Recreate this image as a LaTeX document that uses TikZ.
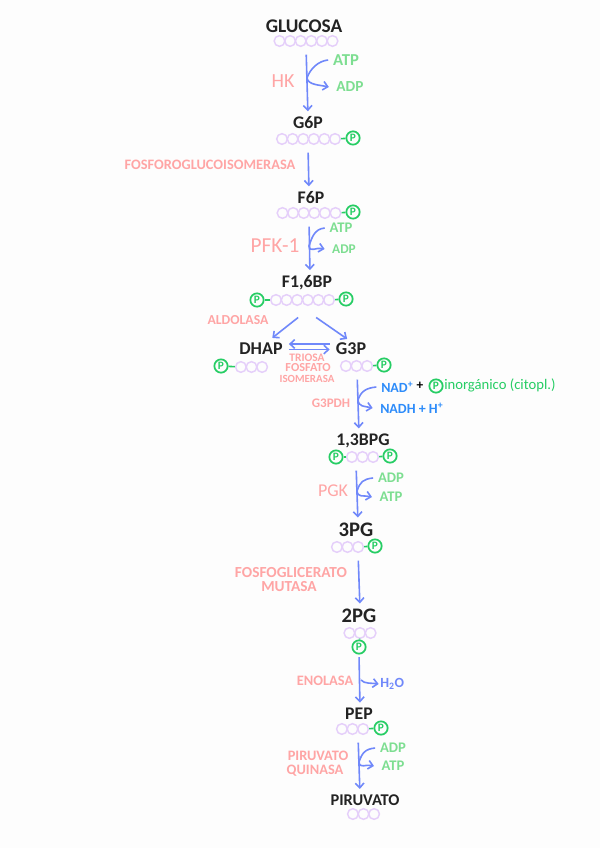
\documentclass[tikz,border=0pt]{standalone}
\usepackage{fontspec}
\setmainfont{Carlito}
\usepackage{xcolor}
\usepackage{tikz}
\usetikzlibrary{arrows.meta, positioning, calc}
\definecolor{myblack}{RGB}{35,35,35}
\definecolor{mysugar}{RGB}{229,207,250}
\definecolor{myphos}{RGB}{38,205,100}
\definecolor{myflow}{RGB}{112,136,250}
\definecolor{myenz}{RGB}{255,165,165}
\definecolor{myenergy}{RGB}{125,222,145}
\definecolor{mynad}{RGB}{45,140,250}
\definecolor{mypaper}{RGB}{253,253,253}
\newcommand{\fsz}[1]{\fontsize{#1}{#1}\selectfont\bfseries}
\newcommand{\fsr}[1]{\fontsize{#1}{#1}\selectfont}
\tikzset{
  metab/.style={inner sep=0pt, color=myblack, font=\fsz{13.3}},
  bigmetab/.style={inner sep=0pt, color=myblack, font=\fsz{15.5}},
  enzyme/.style={inner sep=0pt, color=myenz, font=\fsz{10.8}},
  energy/.style={inner sep=0pt, color=myenergy, font=\fsz{11}},
  redox/.style={inner sep=0pt, color=mynad, font=\fsz{10.5}},
  sugar/.style={circle, draw=mysugar, line width=1.1pt, inner sep=0pt, minimum size=8pt},
  phos/.style={circle, draw=myphos, line width=1.3pt, inner sep=0pt, minimum size=10pt,
    text=myphos, font=\fsz{8.5}},
  phosbond/.style={draw=myphos, line width=1.2pt},
  flow/.style={-{Straight Barb[length=3.5pt,width=6.5pt]}, color=myflow, line width=1.2pt},
  spine/.style={flow, shorten <=6pt, shorten >=4pt}
}
% row of sugar rings: name, centre x, y, number of rings
\newcommand{\rings}[4]{
  \node[inner sep=0pt, minimum width=#4*10.6*0.75pt, minimum height=8pt] (#1) at (#2,#3) {};
  \foreach \i in {1,...,#4}
    \node[sugar] (#1\i) at ({#2+(\i-(#4+1)/2)*10.6},#3) {};
}
% side branch through the spine
\newcommand{\branch}[3]{
  \draw[flow] ([xshift=-3.5pt]#1.west) .. controls +(-10,1) and +(3,-9) .. (#3)
    .. controls +(1,7) and +(-9,-2) .. ([xshift=-5.5pt]#2.west);
}
\begin{document}
\begin{tikzpicture}[x=0.75pt,y=-0.75pt]
  \useasboundingbox[fill=mypaper] (0,0) rectangle (600,848);

  % Metabolites
  \node[metab, font=\fsz{14.5}] (glucosa) at (304,26) {GLUCOSA};
  \node[metab] (g6p) at (308,123) {G6P};
  \node[metab] (f6p) at (311,198) {F6P};
  \node[metab] (f16bp) at (307,283) {F1,6BP};
  \node[metab, font=\fsz{13.5}] (dhap) at (261,349) {DHAP};
  \node[metab, font=\fsz{13.5}] (g3p) at (351,349) {G3P};
  \node[metab] (bpg) at (363,441) {1,3BPG};
  \node[bigmetab] (pg3) at (356,530) {3PG};
  \node[bigmetab] (pg2) at (359,616) {2PG};
  \node[metab] (pep) at (359,714) {PEP};
  \node[metab, font=\fsz{12.3}] (piruvato) at (365,800) {PIRUVATO};

  % Sugar rings
  \rings{rglucosa}{306}{41}{6}
  \rings{rgsp}{308.5}{139}{6}
  \rings{rfsp}{309}{213}{6}
  \rings{rfbp}{302.5}{300}{6}
  \rings{rdhap}{251.5}{367}{3}
  \rings{rgtp}{356.5}{366}{3}
  \rings{rbpg}{362.5}{457}{3}
  \rings{rpgt}{347.5}{547}{3}
  \rings{rpgd}{360}{633}{3}
  \rings{rpep}{352.5}{729}{3}
  \rings{rpir}{363.5}{814}{3}

  % Phosphates
  \node[phos] (pgsp) at (353,138) {P};
  \node[phos] (pfsp) at (353,212) {P};
  \node[phos] (pfbpa) at (257,300) {P};
  \node[phos] (pfbpb) at (346,299) {P};
  \node[phos] (pdhap) at (221,366) {P};
  \node[phos] (pgtp) at (384,365) {P};
  \node[phos] (pbpga) at (336,457) {P};
  \node[phos] (pbpgb) at (390,456) {P};
  \node[phos] (ppgt) at (375,546) {P};
  \node[phos] (ppgd) at (359,647) {P};
  \node[phos] (ppep) at (381,728) {P};
  \foreach \a/\b in {rgsp6/pgsp, rfsp6/pfsp, rfbp1/pfbpa, rfbp6/pfbpb, rdhap1/pdhap,
      rgtp3/pgtp, rbpg1/pbpga, rbpg3/pbpgb, rpgt3/ppgt, rpep3/ppep}
    \draw[phosbond] (\a) -- (\b);
  \draw[phosbond] (rpgd) -- (ppgd);

  % Enzymes
  \node[enzyme, font=\fsr{15}] (hk) at (283,81) {HK};
  \node[enzyme] (pgi) at (210,165) {FOSFOROGLUCOISOMERASA};
  \node[enzyme, font=\fsr{16}] (pfk) at (275,246) {PFK-1};
  \node[enzyme, font=\fsz{10.3}] (aldolasa) at (238,320) {ALDOLASA};
  \node[enzyme, font=\fsz{8.6}] (tpi) at (307,357.5) {TRIOSA};
  \node[enzyme, font=\fsz{9.2}] (tpib) at (308,368) {FOSFATO};
  \node[enzyme, font=\fsz{8.2}] (tpic) at (307,378.5) {ISOMERASA};
  \node[enzyme, font=\fsz{9.8}] (gapdh) at (331,403) {G3PDH};
  \node[enzyme, font=\fsr{13.5}] (pgk) at (333,491) {PGK};
  \node[enzyme, font=\fsz{11.5}] (pgm) at (291,573) {FOSFOGLICERATO};
  \node[enzyme, font=\fsz{11.5}] (pgmb) at (289,587) {MUTASA};
  \node[enzyme] (enolasa) at (325,681) {ENOLASA};
  \node[enzyme] (pk) at (318,756) {PIRUVATO};
  \node[enzyme] (pkb) at (315,771) {QUINASA};

  % Cofactors
  \node[energy, font=\fsz{12.5}] (atpa) at (346,60) {ATP};
  \node[energy, font=\fsz{11.5}] (adpa) at (350,87) {ADP};
  \node[energy] (atpb) at (341,228) {ATP};
  \node[energy, font=\fsz{10}] (adpb) at (344,249) {ADP};
  \node[redox, anchor=west] (nad) at (381,387) {NAD\textsuperscript{+}};
  \node[inner sep=0pt, font=\fsz{10}, color=black] (plus) at (420,386) {+};
  \node[phos] (pino) at (436,386) {P};
  \node[inner sep=0pt, anchor=west, color=myphos, font=\fsr{11}] (ino) at (444,385) {inorgánico (citopl.)};
  \node[redox, anchor=west] (nadh) at (380,408) {NADH + H\textsuperscript{+}};
  \node[energy] (adpc) at (391,478) {ADP};
  \node[energy] (atpc) at (391,497) {ATP};
  \node[inner sep=0pt, anchor=west, color=myflow, font=\fsz{10.5}] (agua) at (380,684) {H\textsubscript{2}O};
  \node[energy] (adpd) at (393,748) {ADP};
  \node[energy] (atpd) at (393,766) {ATP};

  % Pathway
  \draw[spine] (rglucosa.south) -- (g6p.north);
  \draw[spine] ([xshift=-0.4pt]rgsp.south) -- ([xshift=-1.5pt]f6p.north);
  \draw[spine] (rfsp.south) -- ([xshift=2.25pt]f16bp.north);
  \draw[flow, shorten <=14.4pt, shorten >=6pt] ([xshift=8pt]rfbp.south) -- ([xshift=3.75pt]dhap.north);
  \draw[flow, shorten <=15.6pt, shorten >=5pt] ([xshift=-2.6pt]rfbp.south) -- ([xshift=1.2pt]g3p.north);
  \draw[spine] ([xshift=0.4pt]rgtp.south) -- ([xshift=-3pt]bpg.north);
  \draw[spine] ([xshift=-4.9pt]rbpg.south) -- ([xshift=1.5pt]pg3.north);
  \draw[spine] ([xshift=7.9pt]rpgt.south) -- ([xshift=0.75pt]pg2.north);
  \draw[spine, shorten <=2pt] (ppgd.south) -- ([xshift=0.75pt]pep.north);
  \draw[spine] ([xshift=4.1pt]rpep.south) -- ([xshift=-3.75pt]piruvato.north);

  % Equilibrium
  \draw[flow, shorten <=4.5pt, shorten >=4.5pt] ([yshift=3.75pt]g3p.west) -- ([yshift=3.75pt]dhap.east);
  \draw[flow, shorten <=4.5pt, shorten >=4.5pt] ([yshift=-0.4pt]dhap.east) -- ([yshift=-0.4pt]g3p.west);

  % Side branches
  \coordinate (sa) at (307,78);
  \coordinate (sb) at (309,246);
  \coordinate (sc) at (358,400);
  \coordinate (sd) at (357,491);
  \coordinate (se) at (359,762);
  \branch{atpa}{adpa}{sa}
  \branch{atpb}{adpb}{sb}
  \branch{nad}{nadh}{sc}
  \branch{adpc}{atpc}{sd}
  \branch{adpd}{atpd}{se}
  \coordinate (sf) at (361,680);
  \draw[flow] (sf) .. controls +(3,4) and +(-6,-1) .. ([xshift=-1pt]agua.west);
\end{tikzpicture}
\end{document}
